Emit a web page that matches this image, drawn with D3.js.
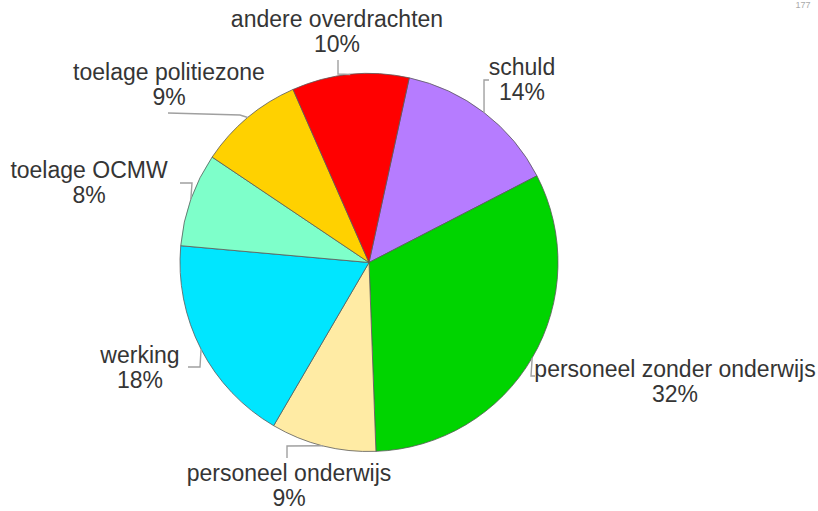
<!DOCTYPE html>
<html>
<head>
<meta charset="utf-8">
<script src="https://cdn.jsdelivr.net/npm/d3@7"></script>
<style>
  html, body { margin: 0; padding: 0; background: #fff; }
  svg { display: block; }
  .lbl { font-family: "Liberation Sans", Arial, sans-serif; font-size: 23px; fill: #353535; }
  .lead { fill: none; stroke: #a0a0a0; stroke-width: 1.4; }
</style>
</head>
<body>
<div id="chart"></div>
<script>
// pie slices, clockwise starting just right of 12 o'clock
const categories = ["schuld", "personeel zonder onderwijs", "personeel onderwijs", "werking",
  "toelage OCMW", "toelage politiezone", "andere overdrachten"];
const values = [14, 32, 9, 18, 8, 9, 10];
const colors = ["#b67cff", "#00d400", "#ffeba4", "#00e6ff", "#7effca", "#ffd100", "#ff0000"];

// label placement: text centre / first baseline, then leader elbow + end point
const labelPos = [
  { x: 522, y: 75, pts: [[484, 80], [489, 80]] },
  { x: 675, y: 377, pts: [[531, 376], [535, 376]] },
  { x: 289, y: 481, pts: [[287, 446], [287, 458]] },
  { x: 140, y: 363, pts: [[200, 367], [188, 367]] },
  { x: 89, y: 178, pts: [[192, 183], [180, 183]] },
  { x: 169, y: 80, pts: [[240, 115], [168, 113]] },
  { x: 337, y: 27, pts: [[338, 74], [338, 60]] }
];

const W = 818, H = 511, cx = 369, cy = 262.5, R = 189;
const startAngle = 12.3 * Math.PI / 180;

const svg = d3.select("#chart").append("svg").attr("width", W).attr("height", H);

const pie = d3.pie().sort(null).value(d => d.v)
  .startAngle(startAngle).endAngle(startAngle + 2 * Math.PI);
const arcs = pie(categories.map((c, i) => ({ c, v: values[i], i })));
const arc = d3.arc().innerRadius(0).outerRadius(R);

const g = svg.append("g").attr("transform", `translate(${cx},${cy})`);
g.selectAll("path").data(arcs).join("path")
  .attr("d", arc)
  .attr("fill", d => colors[d.data.i])
  .attr("stroke", "#5a5a5a").attr("stroke-width", 0.8);

// leaders start on the rim at the slice's mid angle
const line = d3.line();
svg.append("g").selectAll("path").data(arcs).join("path")
  .attr("class", "lead")
  .attr("d", d => {
    const a = (d.startAngle + d.endAngle) / 2;
    const edge = [cx + R * Math.sin(a), cy - R * Math.cos(a)];
    return line([edge, ...labelPos[d.data.i].pts]);
  });

const lbl = svg.append("g").selectAll("text").data(arcs).join("text")
  .attr("class", "lbl").attr("text-anchor", "middle")
  .attr("x", d => labelPos[d.data.i].x).attr("y", d => labelPos[d.data.i].y);
lbl.append("tspan").text(d => d.data.c);
lbl.append("tspan").attr("x", d => labelPos[d.data.i].x).attr("dy", 25)
  .text(d => d.data.v + "%");

// page number in the top-right corner
svg.append("text").attr("x", 803).attr("y", 8).attr("text-anchor", "middle")
  .attr("font-family", "Liberation Sans, Arial").attr("font-size", 9).attr("fill", "#aaa")
  .text("177");
</script>
</body>
</html>
